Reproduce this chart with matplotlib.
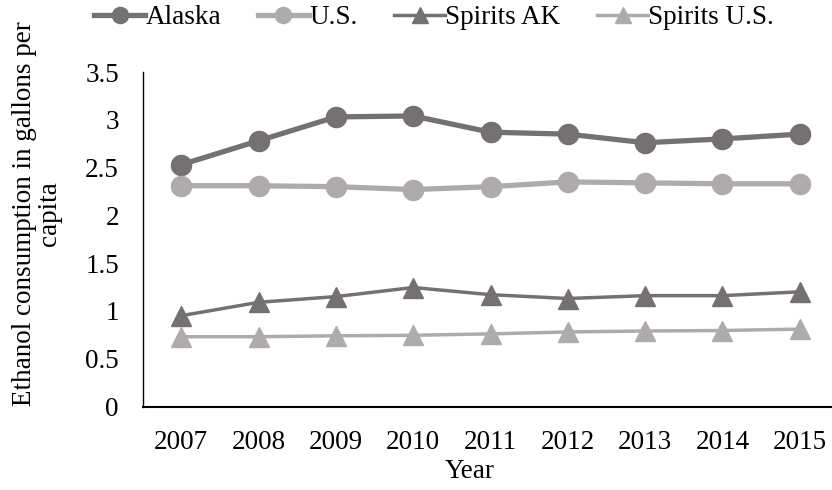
import matplotlib
matplotlib.use("Agg")
import matplotlib.pyplot as plt

years = ["2007", "2008", "2009", "2010", "2011", "2012", "2013", "2014", "2015"]
alaska = [2.53, 2.78, 3.03, 3.04, 2.87, 2.85, 2.76, 2.80, 2.85]
us = [2.31, 2.31, 2.30, 2.27, 2.30, 2.35, 2.34, 2.33, 2.33]
spirits_ak = [0.95, 1.09, 1.15, 1.245, 1.17, 1.13, 1.16, 1.16, 1.20]
spirits_us = [0.73, 0.73, 0.74, 0.745, 0.76, 0.78, 0.79, 0.795, 0.81]
yticks = [0, 0.5, 1, 1.5, 2, 2.5, 3, 3.5]
ytick_labels = ["0", "0.5", "1", "1.5", "2", "2.5", "3", "3.5"]

dark = "#767171"
light = "#AFABAB"
FS = 19.5

plt.rcParams["font.family"] = ["Liberation Serif", "DejaVu Serif"]
W, H = 832, 490
fig = plt.figure(figsize=(W / 100, H / 100), dpi=100)
left, right, top, bottom = 142.5, 838.5, 72, 406.5
ax = fig.add_axes([left / W, 1 - bottom / H, (right - left) / W, (bottom - top) / H])

x = list(range(len(years)))
ax.plot(x, alaska, color=dark, lw=3.8, marker="o", ms=14.5, label="Alaska")
ax.plot(x, us, color=light, lw=3.8, marker="o", ms=14.5, label="U.S.")
ax.plot(x, spirits_ak, color=dark, lw=2.5, marker="^", ms=14, label="Spirits AK")
ax.plot(x, spirits_us, color=light, lw=2.5, marker="^", ms=14, label="Spirits U.S.")

ax.set_xlim(-0.5, len(years) - 0.5)
ax.set_ylim(0, 3.5)
ax.set_yticks(yticks)
ax.set_yticklabels(ytick_labels)
ax.set_xticks(x)
ax.set_xticklabels(years)
ax.tick_params(axis="both", length=0, labelsize=FS, colors="black")
ax.tick_params(axis="x", pad=17)
ax.tick_params(axis="y", pad=17)
for s in ["top", "right"]:
    ax.spines[s].set_visible(False)
ax.spines["left"].set_linewidth(1.0)
ax.spines["bottom"].set_linewidth(1.5)
ax.spines["left"].set_color("black")
ax.spines["bottom"].set_color("black")

fig.text(470 / W, 1 - 471 / H, "Year", ha="center", va="center", fontsize=FS)
fig.text(37 / W, 1 - 214 / H, "Ethanol consumption in gallons per\ncapita", ha="center", va="center",
         rotation=90, fontsize=FS, linespacing=0.95)

leg = fig.legend(loc="center", bbox_to_anchor=(434 / W, 1 - 18 / H), ncol=4, frameon=False,
                 fontsize=FS, handlelength=1.9, handletextpad=0.0, columnspacing=1.35,
                 markerscale=0.8)

fig.savefig("out.png", dpi=100)
